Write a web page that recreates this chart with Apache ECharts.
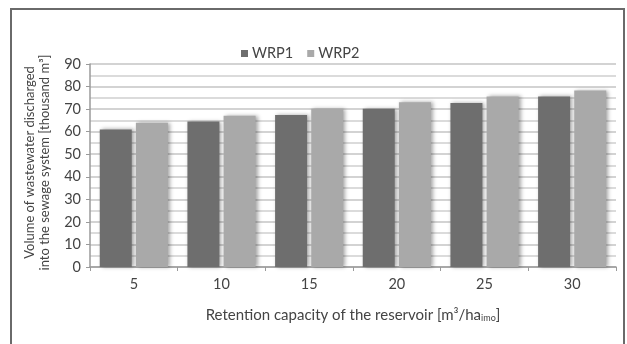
<!DOCTYPE html>
<html><head><meta charset="utf-8">
<script src="https://cdn.jsdelivr.net/npm/echarts@6/dist/echarts.min.js"></script>
<style>
html,body{margin:0;padding:0;background:#fff;}
#frame{position:absolute;left:10px;top:8px;width:611px;height:340px;border-left:2px solid #6a6a6a;border-top:2px solid #6a6a6a;border-right:2px solid #6a6a6a;}
#main{position:absolute;left:0;top:0;width:627px;height:344px;}
</style></head>
<body>
<div id="frame"></div>
<div id="main"></div>
<script>
const categories = ['5','10','15','20','25','30'];
const wrp1 = [61, 64.5, 67.4, 70.2, 72.7, 75.6];
const wrp2 = [64, 67.1, 70.2, 73, 75.6, 78.2];
const seriesNames = ['WRP1','WRP2'];

const FONT = 'Lato, "Open Sans", sans-serif';
const chart = echarts.init(document.getElementById('main'), null, {renderer:'canvas'});
chart.setOption({
  animation:false,
  textStyle:{fontFamily:FONT},
  legend:{
    data:seriesNames, left:236, top:41, itemWidth:7, itemHeight:7, itemGap:14,
    icon:'rect',
    textStyle:{fontFamily:FONT, fontSize:14.5, color:'#444', padding:[0,0,0,-1]}
  },
  grid:{left:90, right:11, top:64, bottom:77, containLabel:false},
  xAxis:{
    type:'category', data:categories,
    name:'Retention capacity of the reservoir [m³/ha{s|imo}]',
    nameLocation:'middle', nameGap:40,
    nameTextStyle:{fontFamily:FONT, fontSize:15, color:'#444',
      rich:{s:{fontSize:9, verticalAlign:'bottom', padding:[7,0,0,0], color:'#444', fontFamily:FONT}}},
    axisLine:{lineStyle:{color:'#9a9a9a', width:1.5}},
    axisTick:{show:true, length:4, lineStyle:{color:'#9a9a9a'}},
    axisLabel:{fontFamily:FONT, fontSize:14.5, color:'#444', margin:10}
  },
  yAxis:{
    type:'value', min:0, max:90, interval:10,
    name:'Volume of wastewater discharged\ninto the sewage system [thousand m³]',
    nameLocation:'middle', nameRotate:90, nameGap:38,
    nameTextStyle:{fontFamily:FONT, fontSize:13, color:'#444', lineHeight:15, padding:[0,0,0,6]},
    axisLine:{show:true, lineStyle:{color:'#9a9a9a', width:1.5}},
    axisTick:{show:true, length:4, lineStyle:{color:'#9a9a9a'}},
    axisLabel:{fontFamily:FONT, fontSize:14.5, color:'#444', margin:9},
    splitLine:{show:true, lineStyle:{color:'#c4c4c4', width:1.5}},
    minorTick:{show:false, splitNumber:2},
    minorSplitLine:{show:true, lineStyle:{color:'#cfcfcf', width:1.5}}
  },
  series:[
    {name:seriesNames[0], type:'bar', data:wrp1, barWidth:32, barGap:'13%',
     itemStyle:{color:'#6e6e6e',
       shadowColor:'rgba(0,0,0,0.35)', shadowBlur:4, shadowOffsetX:2, shadowOffsetY:0}},
    {name:seriesNames[1], type:'bar', data:wrp2, barWidth:32,
     itemStyle:{color:'#a9a9a9',
       shadowColor:'rgba(0,0,0,0.35)', shadowBlur:4, shadowOffsetX:2, shadowOffsetY:0}}
  ]
});
</script>
</body></html>
